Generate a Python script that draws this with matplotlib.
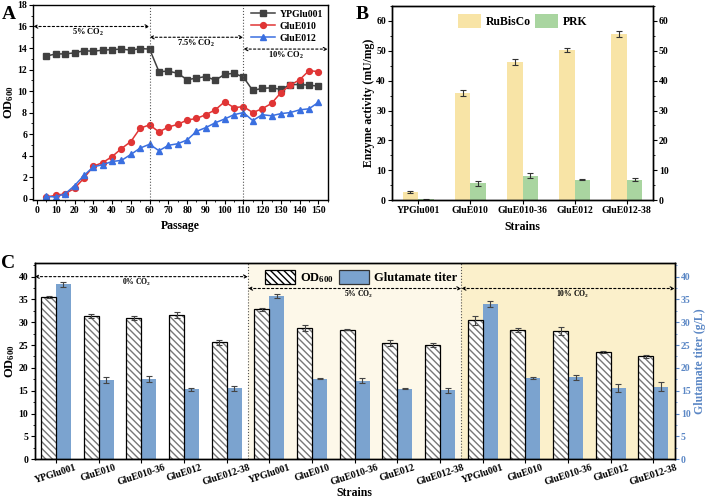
import numpy as np
import matplotlib
matplotlib.use("Agg")
import matplotlib.pyplot as plt
from matplotlib.ticker import MultipleLocator

plt.rcParams['font.family'] = ['Liberation Serif', 'DejaVu Serif']
plt.rcParams['font.weight'] = 'bold'
plt.rcParams['mathtext.fontset'] = 'custom'
plt.rcParams['mathtext.rm'] = 'Liberation Serif'
plt.rcParams['mathtext.bf'] = 'Liberation Serif:bold'
plt.rcParams['axes.linewidth'] = 1.0

# ---- panel A data: OD600 over passages
passage = [5, 10, 15, 20, 25, 30, 35, 40, 45, 50, 55, 60,
           65, 70, 75, 80, 85, 90, 95, 100, 105, 110,
           115, 120, 125, 130, 135, 140, 145, 150]
od_ypglu001 = [13.25, 13.45, 13.45, 13.55, 13.75, 13.7, 13.8, 13.85, 13.9, 13.8, 13.95, 13.9,
               11.8, 11.85, 11.65, 11.05, 11.2, 11.35, 11.0, 11.55, 11.65, 11.3,
               10.05, 10.25, 10.3, 10.15, 10.6, 10.6, 10.55, 10.45]
od_glue010 = [0.15, 0.3, 0.45, 0.95, 1.9, 3.0, 3.35, 3.9, 4.65, 5.3, 6.55, 6.85,
              6.2, 6.65, 6.9, 7.3, 7.45, 7.8, 8.25, 9.0, 8.45, 8.55,
              8.0, 8.35, 8.85, 9.85, 10.55, 11.05, 11.9, 11.8]
od_glue012 = [0.2, 0.15, 0.45, 1.2, 2.15, 2.95, 3.15, 3.45, 3.55, 4.1, 4.7, 5.05,
              4.45, 4.95, 5.1, 5.45, 6.25, 6.6, 7.05, 7.4, 7.8, 8.0,
              7.25, 7.8, 7.7, 7.9, 8.0, 8.25, 8.35, 8.95]

# ---- panel B data: enzyme activity
strains = ['YPGlu001', 'GluE010', 'GluE010-36', 'GluE012', 'GluE012-38']
rubisco = [2.7, 35.8, 46.4, 50.2, 55.5]
rubisco_err = [0.3, 1.0, 1.0, 0.6, 1.0]
prk = [0.3, 5.7, 8.2, 6.9, 6.9]
prk_err = [0.1, 0.8, 0.8, 0.2, 0.5]

# ---- panel C data: OD600 and glutamate titer at 0/5/10% CO2
strains_c = strains * 3
od_c = [35.5, 31.4, 30.9, 31.6, 25.6,
        32.8, 28.7, 28.4, 25.4, 25.0,
        30.4, 28.3, 28.0, 23.4, 22.5]
od_c_err = [0.2, 0.5, 0.4, 0.6, 0.6,
            0.3, 0.6, 0.1, 0.7, 0.4,
            0.9, 0.5, 0.9, 0.2, 0.4]
glu_c = [38.3, 17.3, 17.6, 15.3, 15.5,
         35.8, 17.6, 17.2, 15.4, 15.1,
         34.0, 17.8, 17.9, 15.6, 15.9]
glu_c_err = [0.6, 0.7, 0.7, 0.4, 0.5,
             0.4, 0.1, 0.5, 0.1, 0.5,
             0.7, 0.2, 0.5, 0.8, 0.9]

fig = plt.figure(figsize=(7.08, 4.98), dpi=100)
TS = 7  # tick label size


def dotted_arrow(ax, x0, x1, y):
    ax.annotate('', xy=(x1, y), xytext=(x0, y),
                arrowprops=dict(arrowstyle='<->', ls=(0, (2, 2)), lw=0.8,
                                color='black', shrinkA=0, shrinkB=0,
                                mutation_scale=6))


def style_ticks(ax, **kw):
    ax.tick_params(labelsize=TS, length=3, pad=1.5, **kw)
    ax.tick_params(which='minor', length=1.5, **kw)


# ================= A =================
axA = fig.add_axes([0.047, 0.598, 0.416, 0.392])
axA.plot(passage, od_ypglu001, '-s', color='#404040', ms=3.8, lw=1.1, label='YPGlu001')
axA.plot(passage, od_glue010, '-o', color='#e03535', ms=4.2, lw=1.1, label='GluE010')
axA.plot(passage, od_glue012, '-^', color='#3a6fe0', ms=4.2, lw=1.1, label='GluE012')
axA.set_xlim(-2, 155)
axA.set_ylim(-0.15, 18)
for xv in (60, 110):
    axA.axvline(xv, color='#555555', ls=':', lw=0.8)
dotted_arrow(axA, -2, 60, 16)
dotted_arrow(axA, 60, 110, 15)
dotted_arrow(axA, 110, 155, 13.9)
axA.text(27, 15.5, r'5% CO$_2$', ha='center', va='center', fontsize=6)
axA.text(85, 14.4, r'7.5% CO$_2$', ha='center', va='center', fontsize=6)
axA.text(133, 13.3, r'10% CO$_2$', ha='center', va='center', fontsize=6)
axA.xaxis.set_major_locator(MultipleLocator(10))
axA.xaxis.set_minor_locator(MultipleLocator(5))
axA.yaxis.set_major_locator(MultipleLocator(2))
axA.yaxis.set_minor_locator(MultipleLocator(1))
style_ticks(axA)
axA.set_xlabel('Passage', fontsize=8.5, fontweight='bold', labelpad=3)
axA.set_ylabel(r'$\mathbf{OD_{600}}$', fontsize=9, labelpad=1)
axA.legend(loc='upper right', frameon=False, fontsize=7, handlelength=2.4,
           borderaxespad=0.1, labelspacing=0.3, handletextpad=0.5)

# ================= B =================
axB = fig.add_axes([0.554, 0.598, 0.368, 0.390])
xb = np.arange(len(strains))
w = 0.3
axB.bar(xb - w / 2, rubisco, w, color='#f8e4a6', label='RuBisCo')
axB.bar(xb + w / 2, prk, w, color='#a9d5a0', label='PRK')
axB.errorbar(xb - w / 2, rubisco, yerr=rubisco_err, fmt='none', ecolor='#333333',
             elinewidth=0.8, capsize=2, capthick=0.8)
axB.errorbar(xb + w / 2, prk, yerr=prk_err, fmt='none', ecolor='#333333',
             elinewidth=0.8, capsize=2, capthick=0.8)
axB.set_xlim(-0.5, 4.5)
axB.set_ylim(0, 65)
axB.set_xticks(xb)
axB.set_xticklabels(strains)
axB.yaxis.set_major_locator(MultipleLocator(10))
axB.yaxis.set_minor_locator(MultipleLocator(5))
style_ticks(axB)
axB.set_xlabel('Strains', fontsize=8.5, fontweight='bold', labelpad=4)
axB.set_ylabel('Enzyme activity (mU/mg)', fontsize=8.5, fontweight='bold', labelpad=1)
axB2 = axB.twinx()
axB2.set_ylim(0, 65)
axB2.yaxis.set_major_locator(MultipleLocator(10))
axB2.yaxis.set_minor_locator(MultipleLocator(5))
style_ticks(axB2)
axB.legend(loc='upper center', ncol=2, frameon=False, fontsize=8.5,
           handlelength=2.0, handleheight=1.4, columnspacing=0.3,
           handletextpad=0.4, borderaxespad=0.3)

# ================= C =================
axC = fig.add_axes([0.049, 0.078, 0.904, 0.394])
xc = np.arange(len(strains_c))
wc = 0.35
axC.axvspan(4.5, 9.5, color='#fdf8e9', zorder=0, lw=0)
axC.axvspan(9.5, 14.5, color='#fbf0cb', zorder=0, lw=0)
for xv in (4.5, 9.5):
    axC.axvline(xv, color='#555555', ls=':', lw=0.8, zorder=1)
axC.bar(xc - wc / 2, od_c, wc, color='white', edgecolor='#777777', hatch='\\\\\\\\\\',
        lw=0, zorder=2)
axC.bar(xc - wc / 2, od_c, wc, fill=False, edgecolor='black', lw=0.9, zorder=3)
axC.bar(xc + wc / 2, glu_c, wc, color='#7ba3cf', zorder=2)
axC.errorbar(xc - wc / 2, od_c, yerr=od_c_err, fmt='none', ecolor='#444444',
             elinewidth=0.8, capsize=2, capthick=0.8, zorder=4)
axC.errorbar(xc + wc / 2, glu_c, yerr=glu_c_err, fmt='none', ecolor='#444444',
             elinewidth=0.8, capsize=2, capthick=0.8, zorder=4)
axC.set_xlim(-0.5, 14.5)
axC.set_ylim(0, 43)
dotted_arrow(axC, -0.5, 4.5, 40)
dotted_arrow(axC, 4.5, 9.5, 37.4)
dotted_arrow(axC, 9.5, 14.5, 37.4)
axC.text(1.9, 38.7, r'0% CO$_2$', ha='center', va='center', fontsize=5.5)
axC.text(7.1, 36.1, r'5% CO$_2$', ha='center', va='center', fontsize=5.5)
axC.text(12.1, 36.1, r'10% CO$_2$', ha='center', va='center', fontsize=5.5)
axC.set_xticks(xc)
axC.set_xticklabels(strains_c, rotation=18, ha='center')
axC.yaxis.set_major_locator(MultipleLocator(5))
axC.yaxis.set_minor_locator(MultipleLocator(2.5))
style_ticks(axC)
axC.tick_params(axis='x', pad=0)
axC.set_xlabel('Strains', fontsize=8.5, fontweight='bold', labelpad=0)
axC.set_ylabel(r'$\mathbf{OD_{600}}$', fontsize=9, labelpad=1)
axC2 = axC.twinx()
axC2.set_ylim(0, 43)
axC2.yaxis.set_major_locator(MultipleLocator(5))
axC2.yaxis.set_minor_locator(MultipleLocator(2.5))
style_ticks(axC2, colors='#5b87c5')
axC2.set_ylabel('Glutamate titer (g/L)', fontsize=8.5, fontweight='bold',
                color='#5b87c5', labelpad=2)
hC = [plt.Rectangle((0, 0), 1, 1, facecolor='white', edgecolor='black',
                    hatch='\\\\\\\\\\', lw=0.9),
      plt.Rectangle((0, 0), 1, 1, facecolor='#7ba3cf', edgecolor='#333333', lw=0.9)]
axC.legend(hC, [r'$\mathbf{OD_{600}}$', 'Glutamate titer'], loc='upper center',
           ncol=2, frameon=False, fontsize=9, handlelength=2.4, handleheight=1.3,
           columnspacing=0.4, handletextpad=0.4, borderaxespad=0.2,
           bbox_to_anchor=(0.51, 1.0))

# panel letters
fig.text(0.002, 0.988, 'A', fontsize=14, fontweight='bold', va='top')
fig.text(0.502, 0.988, 'B', fontsize=14, fontweight='bold', va='top')
fig.text(0.002, 0.488, 'C', fontsize=14, fontweight='bold', va='top')

fig.savefig('out.png', dpi=100)
